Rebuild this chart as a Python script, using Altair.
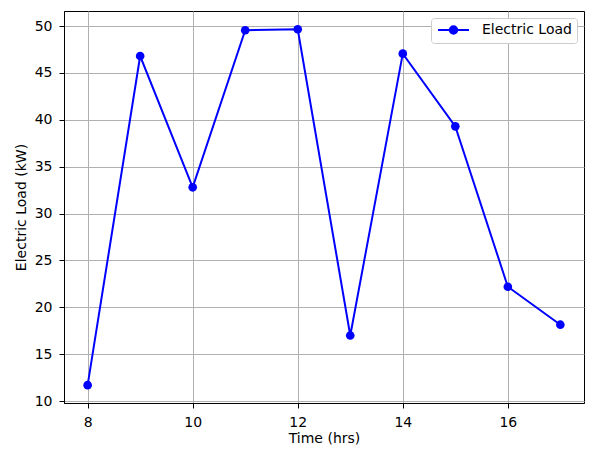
import altair as alt
import pandas as pd

hours = [8, 9, 10, 11, 12, 13, 14, 15, 16, 17]
load_kw = [11.7, 46.8, 32.8, 49.55, 49.65, 17.0, 47.05, 39.3, 22.2, 18.15]
series_name = "Electric Load"
x_ticks = [8, 10, 12, 14, 16]
y_ticks = [10, 15, 20, 25, 30, 35, 40, 45, 50]

df = pd.DataFrame({"hour": hours, "load": load_kw, "series": [series_name] * len(hours)})

FONT = "DejaVu Sans"
BLUE = "#0000ff"
legend_path = "M-3.1,0L3.1,0M-0.75,0A0.75,0.75,0,1,0,0.75,0A0.75,0.75,0,1,0,-0.75,0Z"

x = alt.X("hour:Q", title="Time (hrs)",
          scale=alt.Scale(domain=[7.55, 17.45], nice=False, zero=False),
          axis=alt.Axis(values=x_ticks, format="d"))
y = alt.Y("load:Q", title="Electric Load (kW)",
          scale=alt.Scale(domain=[9.8, 51.6], nice=False, zero=False),
          axis=alt.Axis(values=y_ticks, format="d"))

leg = alt.Legend(title=None, orient="top-right", offset=7,
                 symbolType=legend_path, symbolSize=100, symbolStrokeWidth=2,
                 symbolOffset=10.5,
                 labelFont=FONT, labelFontSize=14, labelColor="black", labelOffset=21.5,
                 padding=5, strokeColor="#cccccc", cornerRadius=3, fillColor="white")

color_scale = alt.Scale(domain=[series_name], range=[BLUE])

line = alt.Chart(df).mark_line(strokeWidth=2).encode(
    x=x, y=y, stroke=alt.Stroke("series:N", scale=color_scale, legend=leg)
)
points = alt.Chart(df).mark_point(filled=True, size=75, opacity=1).encode(
    x=x, y=y, fill=alt.Fill("series:N", scale=color_scale, legend=leg)
)

chart = alt.layer(line, points).properties(
    width=520, height=392,
    autosize=alt.AutoSizeParams(type="none"),
    padding={"left": 56, "top": 3, "right": 1, "bottom": 42},
    background="white",
).configure_view(
    stroke="black", strokeWidth=1
).configure_axis(
    grid=True, gridColor="#b0b0b0", gridWidth=1,
    domainColor="black", domainWidth=1,
    tickColor="black", tickSize=5, tickWidth=1,
    labelFont=FONT, labelFontSize=14, labelColor="black",
    titleFont=FONT, titleFontSize=14, titleColor="black", titleFontWeight="normal",
).configure_axisX(labelPadding=7, titlePadding=2).configure_axisY(labelPadding=7, titlePadding=6)

chart.save("out.html", embed_options={"renderer": "svg", "actions": False})
